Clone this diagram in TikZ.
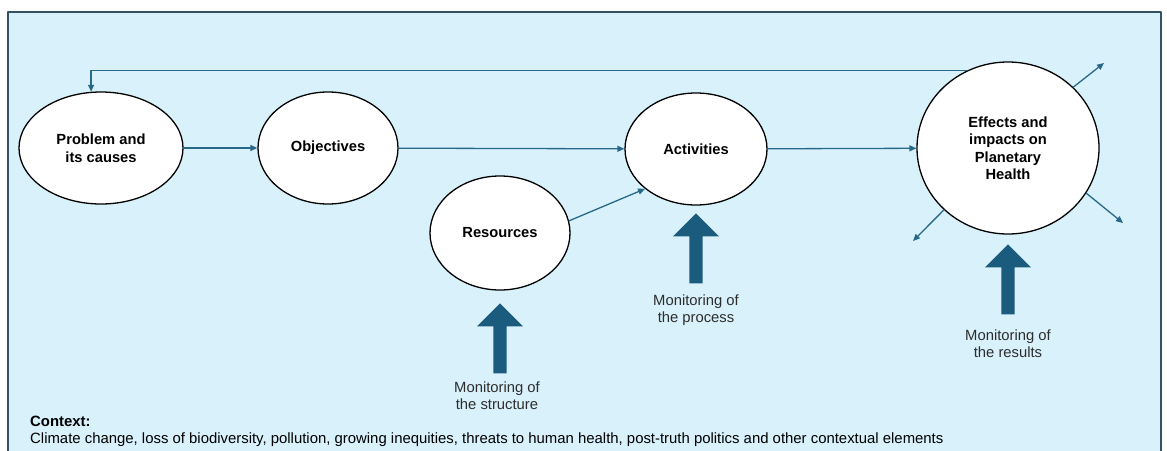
\documentclass[tikz,border=0pt]{standalone}
\usepackage{fontspec}
\setmainfont{Liberation Sans}
\usetikzlibrary{shapes.geometric,shapes.arrows,arrows.meta,positioning}
\definecolor{skyback}{RGB}{216,241,251}
\definecolor{framecol}{RGB}{52,82,98}
\definecolor{linkcol}{RGB}{40,104,136}
\definecolor{blockcol}{RGB}{27,92,126}
\definecolor{labelcol}{RGB}{45,45,45}
\tikzset{
	stage/.style={ellipse,draw=black,line width=1.3pt,fill=white,align=center,inner sep=0pt,font=\fontsize{14.7}{17.5}\selectfont\bfseries},
	link/.style={draw=linkcol,line width=1.3pt,-{Triangle[length=7pt,width=6pt]}},
	monarrow/.style={single arrow,fill=blockcol,draw=none,shape border rotate=90,inner sep=6.5pt,single arrow head extend=16.5pt,single arrow head indent=0pt,minimum height=70pt,anchor=tip},
	monlabel/.style={align=center,text=labelcol,font=\fontsize{14.8}{17.5}\selectfont,anchor=north}
}
\begin{document}
\begin{tikzpicture}[x=1pt,y=-1pt,line cap=round,line join=round]
	\useasboundingbox (0,0) rectangle (1167,450);
	\fill[white] (0,0) rectangle (1167,450);
	\begin{scope}
		\clip (0,0) rectangle (1167,450);
		\draw[fill=skyback,draw=framecol,line width=1.2pt] (8,12) rectangle (1161,470);
	\end{scope}
	% stages
	\node[stage,minimum width=164pt,minimum height=112pt] (prob) at (101,148) {Problem and\\its causes};
	\node[stage,minimum width=140pt,minimum height=112pt] (obj) at (328,148) {Objectives};
	\node[stage,minimum width=142pt,minimum height=112pt] (act) at (696,149) {Activities};
	\node[stage,minimum width=140pt,minimum height=114pt] (res) at (500,233) {Resources};
	\node[stage,minimum width=182pt,minimum height=172pt] (eff) at (1008,148) {Effects and\\impacts on\\Planetary\\Health};
	% links
	\draw[link] (prob) -- (obj);
	\draw[link] (obj) -- (act);
	\draw[link] (act) -- (eff);
	\draw[link] (res.10) -- (act.218);
	\draw[link] (eff.118) -| (prob.100);
	\coordinate (outne) at (1104,63);
	\coordinate (outse) at (1123,223);
	\coordinate (outsw) at (913,241);
	\draw[link] (eff.43) -- (outne);
	\draw[link] (eff.-30) -- (outse);
	\draw[link] (eff.224) -- (outsw);
	% monitoring
	\node[monarrow] (monstruct) at (500,303) {};
	\node[monarrow] (monproc) at (696,213) {};
	\node[monarrow] (monres) at (1008,244) {};
	\node[monlabel] (labstruct) at (497,378) {Monitoring of\\the structure};
	\node[monlabel] (labproc) at (696,291) {Monitoring of\\the process};
	\node[monlabel] (labres) at (1008,326) {Monitoring of\\the results};
	% context
	\node[anchor=base west,font=\fontsize{14.9}{17}\selectfont\bfseries,inner sep=0pt] (ctxhead) at (30,426) {Context:};
	\node[anchor=base west,font=\fontsize{14.9}{17}\selectfont,inner sep=0pt] (ctxtext) at (30,443) {Climate change, loss of biodiversity, pollution, growing inequities, threats to human health, post-truth politics and other contextual elements};
\end{tikzpicture}
\end{document}
